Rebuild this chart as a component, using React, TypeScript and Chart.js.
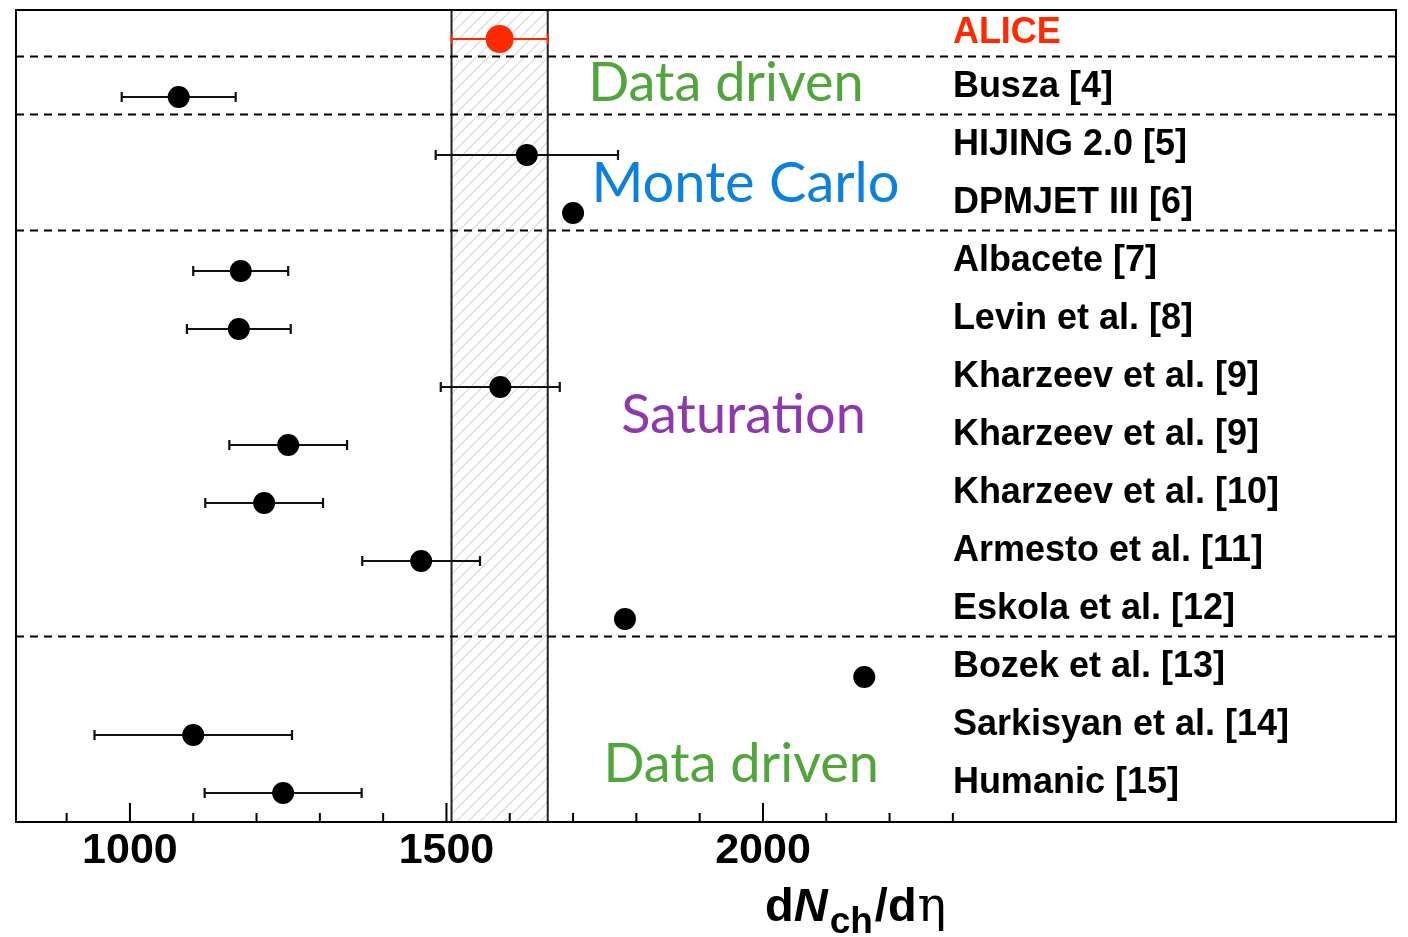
import React, { useEffect, useRef } from 'react';
import { Chart, registerables } from 'chart.js';

Chart.register(...registerables);

// Model predictions of dNch/dη, one row per reference (top to bottom)
const categories = [
  'ALICE',
  'Busza [4]',
  'HIJING 2.0 [5]',
  'DPMJET III [6]',
  'Albacete [7]',
  'Levin et al. [8]',
  'Kharzeev et al. [9]',
  'Kharzeev et al. [9]',
  'Kharzeev et al. [10]',
  'Armesto et al. [11]',
  'Eskola et al. [12]',
  'Bozek et al. [13]',
  'Sarkisyan et al. [14]',
  'Humanic [15]',
];
const centralValues = [1584, 1077, 1627, 1700, 1175, 1172, 1585, 1250, 1212, 1460, 1782, 2160, 1100, 1242];
const errors = [76, 90, 144, 0, 75, 82, 94, 93, 93, 93, 0, 0, 156, 124];

// Dashed separators between model groups (row units)
const separatorRows = [0.3, 1.3, 3.3, 10.3];
// ALICE measurement band (total uncertainty)
const aliceBand = [1508, 1660];

// Axis ticks
const axisTicks = [900, 1000, 1100, 1200, 1300, 1400, 1500, 1600, 1700, 1800, 1900, 2000, 2100, 2200, 2300];
const labelledTicks = [1000, 1500, 2000];

// Group names
const groupNames = ['Data driven', 'Monte Carlo', 'Saturation', 'Data driven'];
const groupColors = ['#50a63b', '#0b80dc', '#8e37b1', '#50a63b'];
const groupX = [1724, 1729, 1776, 1748];
const groupY = [1.07, 2.81, 6.79, 12.81];
const groupSizes = [54, 56, 54, 54];

const labelX = 2300;
const RED = '#ff2a00';

const overlayPlugin = {
  id: 'overlay',
  beforeDatasetsDraw(chart: any) {
    const { ctx, chartArea: a, scales } = chart;
    const xs = scales.x;
    const ys = scales.y;
    const x0 = xs.getPixelForValue(aliceBand[0]);
    const x1 = xs.getPixelForValue(aliceBand[1]);
    const h = a.bottom - a.top;

    // hatched band
    ctx.save();
    ctx.beginPath();
    ctx.rect(x0, a.top, x1 - x0, h);
    ctx.clip();
    ctx.strokeStyle = '#c4c4c4';
    ctx.lineWidth = 1;
    ctx.beginPath();
    for (let k = -h; k < x1 - x0 + 12; k += 12) {
      ctx.moveTo(x0 + k, a.bottom);
      ctx.lineTo(x0 + k + h, a.top);
    }
    ctx.stroke();
    ctx.restore();

    ctx.save();
    ctx.strokeStyle = '#222';
    ctx.lineWidth = 2;
    ctx.beginPath();
    ctx.moveTo(x0, a.top);
    ctx.lineTo(x0, a.bottom);
    ctx.moveTo(x1, a.top);
    ctx.lineTo(x1, a.bottom);
    ctx.stroke();

    // group separators
    ctx.setLineDash([8, 6]);
    ctx.strokeStyle = '#000';
    ctx.lineWidth = 2;
    separatorRows.forEach((r) => {
      const py = ys.getPixelForValue(r);
      ctx.beginPath();
      ctx.moveTo(a.left, py);
      ctx.lineTo(a.right, py);
      ctx.stroke();
    });
    ctx.setLineDash([]);

    // horizontal error bars
    centralValues.forEach((v, i) => {
      const e = errors[i];
      if (!e) return;
      const py = ys.getPixelForValue(i);
      const l = xs.getPixelForValue(v - e);
      const r = xs.getPixelForValue(v + e);
      ctx.strokeStyle = i === 0 ? RED : '#111';
      ctx.lineWidth = i === 0 ? 1.8 : 2.2;
      ctx.beginPath();
      ctx.moveTo(l, py);
      ctx.lineTo(r, py);
      ctx.moveTo(l, py - 5);
      ctx.lineTo(l, py + 5);
      ctx.moveTo(r, py - 5);
      ctx.lineTo(r, py + 5);
      ctx.stroke();
    });
    ctx.restore();
  },
  afterDatasetsDraw(chart: any) {
    const { ctx, chartArea: a, scales } = chart;
    const xs = scales.x;
    const ys = scales.y;
    ctx.save();

    // frame
    ctx.strokeStyle = '#000';
    ctx.lineWidth = 2;
    ctx.strokeRect(a.left, a.top, a.right - a.left, a.bottom - a.top);

    // inward tick marks
    ctx.beginPath();
    axisTicks.forEach((t) => {
      const px = xs.getPixelForValue(t);
      const len = labelledTicks.includes(t) ? 19 : 9;
      ctx.moveTo(px, a.bottom);
      ctx.lineTo(px, a.bottom - len);
    });
    ctx.stroke();

    // model names
    ctx.font = 'bold 36px "Liberation Sans", Arial, sans-serif';
    ctx.textAlign = 'left';
    ctx.textBaseline = 'alphabetic';
    const lx = xs.getPixelForValue(labelX);
    categories.forEach((c, i) => {
      ctx.fillStyle = i === 0 ? RED : '#000';
      ctx.fillText(c, lx, ys.getPixelForValue(i) + (i === 0 ? 4 : 0));
    });

    // group names
    groupNames.forEach((g, i) => {
      ctx.font = `${groupSizes[i]}px Lato, "Open Sans", sans-serif`;
      ctx.fillStyle = groupColors[i];
      ctx.fillText(g, xs.getPixelForValue(groupX[i]), ys.getPixelForValue(groupY[i]));
    });

    // axis title: dN_ch/dη
    const base = 921;
    let cx = 765;
    const parts: [string, string, number, number][] = [
      ['d', 'bold 47px "Liberation Sans", Arial, sans-serif', 0, 0],
      ['N', 'italic bold 47px "Liberation Sans", Arial, sans-serif', 0, 2],
      ['ch', 'bold 37px "Liberation Sans", Arial, sans-serif', 12, 2],
      ['/d', 'bold 47px "Liberation Sans", Arial, sans-serif', 0, 1],
      ['η', '48px "DejaVu Serif", "Liberation Serif", serif', 0, 0],
    ];
    ctx.fillStyle = '#000';
    parts.forEach(([t, f, dy, gap]) => {
      ctx.font = f;
      ctx.fillText(t, cx, base + dy);
      cx += ctx.measureText(t).width + gap;
    });

    ctx.restore();
  },
};

export default function App() {
  const canvasRef = useRef<HTMLCanvasElement | null>(null);

  useEffect(() => {
    const canvas = canvasRef.current;
    if (!canvas) return;
    const chart = new Chart(canvas, {
      type: 'scatter',
      data: {
        datasets: [
          {
            label: 'ALICE',
            data: [{ x: centralValues[0], y: 0 }],
            backgroundColor: RED,
            borderWidth: 0,
            pointRadius: 14,
          },
          {
            label: 'Models',
            data: centralValues.slice(1).map((v, i) => ({ x: v, y: i + 1 })),
            backgroundColor: '#000',
            borderWidth: 0,
            pointRadius: 11,
          },
        ],
      },
      options: {
        responsive: false,
        animation: false,
        devicePixelRatio: 1,
        layout: { autoPadding: false, padding: { left: 16, right: 12, top: 10, bottom: 0 } },
        plugins: { legend: { display: false }, tooltip: { enabled: false } },
        scales: {
          x: {
            type: 'linear',
            min: 820,
            max: 3000,
            grid: { display: false },
            border: { display: false },
            afterBuildTicks: (scale: any) => {
              scale.ticks = labelledTicks.map((v) => ({ value: v }));
            },
            afterFit: (scale: any) => {
              scale.height = 115;
            },
            ticks: {
              color: '#000',
              padding: -5,
              font: { family: '"Liberation Sans", Arial, sans-serif', size: 43, weight: 'bold' },
              callback: (v: any) => String(v),
            },
          },
          y: {
            type: 'linear',
            reverse: true,
            min: -0.5,
            max: 13.5,
            display: false,
          },
        },
      },
      plugins: [overlayPlugin],
    });
    return () => chart.destroy();
  }, []);

  return (
    <div style={{ position: 'fixed', left: 0, top: 0, width: 1408, height: 937, background: '#fff' }}>
      <canvas ref={canvasRef} width={1408} height={937} />
    </div>
  );
}
